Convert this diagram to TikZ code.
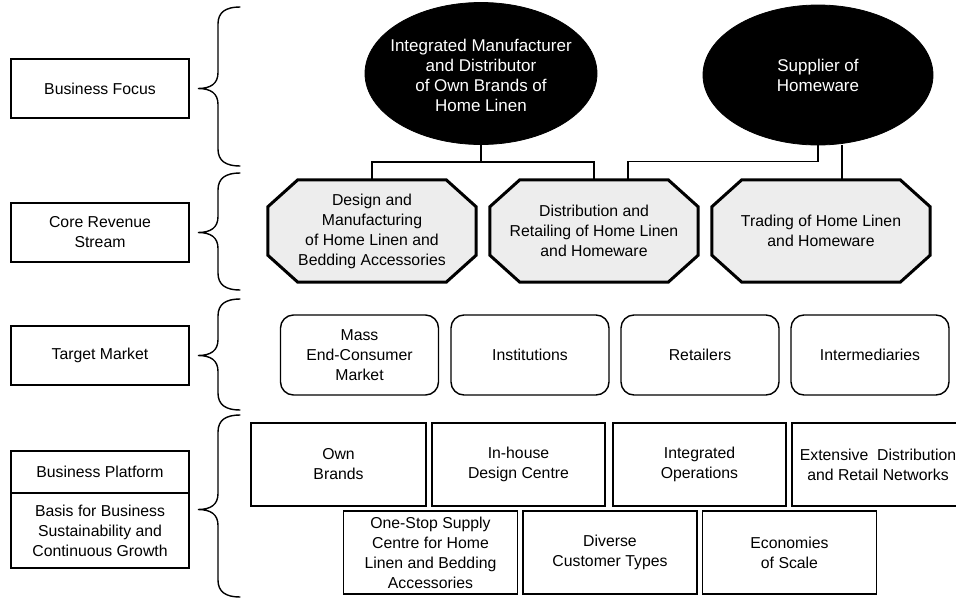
\documentclass[tikz,border=0pt]{standalone}
\usepackage{fontspec}
\setmainfont{Liberation Sans}
\usetikzlibrary{calc,shapes.geometric}
\pgfdeclarelayer{background}
\pgfsetlayers{background,main}
\begin{document}
\begin{tikzpicture}[x=1pt,y=-1pt,
  every node/.style={font=\fontsize{15.8}{20}\selectfont, align=center, inner sep=0pt},
  labelbox/.style={draw, line width=1.6pt, fill=white, minimum width=178pt, minimum height=59pt},
  oval/.style={ellipse, fill=black, draw=black, line width=0.8pt},
  ovaltext/.style={text=white, font=\fontsize{17}{20}\selectfont},
  octa/.style={minimum height=102pt},
  octaline/.style={draw, line width=3pt, line join=miter, fill=black!7},
  market/.style={draw, line width=1.4pt, rounded corners=13pt, minimum width=158pt, minimum height=80pt},
  basebox/.style={draw, line width=1.7pt, minimum width=174pt, minimum height=83pt},
  conn/.style={draw, line width=1.3pt},
  bracket/.style={draw, line width=1.4pt, line cap=round},
]
\useasboundingbox (0,0) rectangle (956,600);
\clip (0,0) rectangle (956,600);

% left column labels
\node[labelbox] (bf) at (100,88.5) {Business Focus};
\node[labelbox] (crs) at (100,232.5) {Core Revenue\\Stream};
\node[labelbox] (tm) at (100,355.5) {Target Market};
\node[labelbox, minimum height=42pt] (bp) at (100,472) {Business Platform};
\node[labelbox, minimum height=75pt] (bs) at (100,530.5) {Basis for Business\\Sustainability and\\Continuous Growth};

% curly brackets
\foreach \T/\M/\B in {7/88.5/166, 173/232.5/290, 299/355.5/410, 415/509.5/597}{
  \draw[bracket] (240,\T) .. controls (226,\T) and (218,\T+5) .. (218,\T+17)
    -- (218,\M-16) .. controls (218,\M-5) and (211,\M) .. (198,\M)
    .. controls (211,\M) and (218,\M+5) .. (218,\M+16)
    -- (218,\B-17) .. controls (218,\B-5) and (226,\B) .. (240,\B);
}

% business focus ovals
\node[oval, minimum width=232pt, minimum height=142pt] (e1) at (481,73.5) {};
\node[ovaltext] (e1t) at (481,75) {Integrated Manufacturer\\and Distributor\\of Own Brands of\\Home Linen};
\node[oval, minimum width=230pt, minimum height=140pt] (e2) at (818,75) {};
\node[ovaltext] (e2t) at (818,75) {Supplier of\\Homeware};

% core revenue streams (octagons)
\foreach \n/\x/\w in {o1/372/208, o2/594/208, o3/821/218}{
  \node[octa, minimum width=\w pt] (\n) at (\x,231) {};
  \draw[octaline] ($(\n.north west)+(30,0)$) -- ($(\n.north east)+(-30,0)$)
    -- ($(\n.north east)+(0,27)$) -- ($(\n.south east)+(0,-27)$)
    -- ($(\n.south east)+(-30,0)$) -- ($(\n.south west)+(30,0)$)
    -- ($(\n.south west)+(0,-27)$) -- ($(\n.north west)+(0,27)$) -- cycle;
}
\node (o1t) at (o1.center) {Design and\\Manufacturing\\of Home Linen and\\Bedding Accessories};
\node (o2t) at (o2.center) {Distribution and\\Retailing of Home Linen\\and Homeware};
\node (o3t) at (o3.center) {Trading of Home Linen\\and Homeware};

% target markets
\node[market] (m1) at (359.5,355) {Mass\\End-Consumer\\Market};
\node[market] (m2) at (530,355) {Institutions};
\node[market] (m3) at (700,355) {Retailers};
\node[market] (m4) at (870,355) {Intermediaries};

% business platform
\node[basebox, minimum width=175pt] (p1) at (338.5,464.5) {Own\\Brands};
\node[basebox, minimum width=173pt] (p2) at (518.5,464.5) {In-house\\Design Centre};
\node[basebox, minimum width=173pt] (p3) at (699.5,464.5) {Integrated\\Operations};
\node[basebox, minimum width=172pt] (p4) at (878,464.5) {Extensive\ \ Distribution\\and Retail Networks};
\node[basebox] (p5) at (430.5,552.5) {One-Stop Supply\\Centre for Home\\Linen and Bedding\\Accessories};
\node[basebox] (p6) at (610,552.5) {Diverse\\Customer Types};
\node[basebox] (p7) at (789.5,552.5) {Economies\\of Scale};

% connectors from the ovals to the revenue streams
\begin{pgfonlayer}{background}
  \draw[conn] (e1.south) -- ++(0,17) coordinate (j1);
  \draw[conn] (o1.north) |- (j1) -| (o2.north);
  \draw[conn] (e2.south) -- ++(0,16) -| ([xshift=34pt]o2.north);
  \draw[conn] ([xshift=21pt]o3.north) -- ([xshift=21pt]o3.north |- e2.south);
\end{pgfonlayer}
\end{tikzpicture}
\end{document}
